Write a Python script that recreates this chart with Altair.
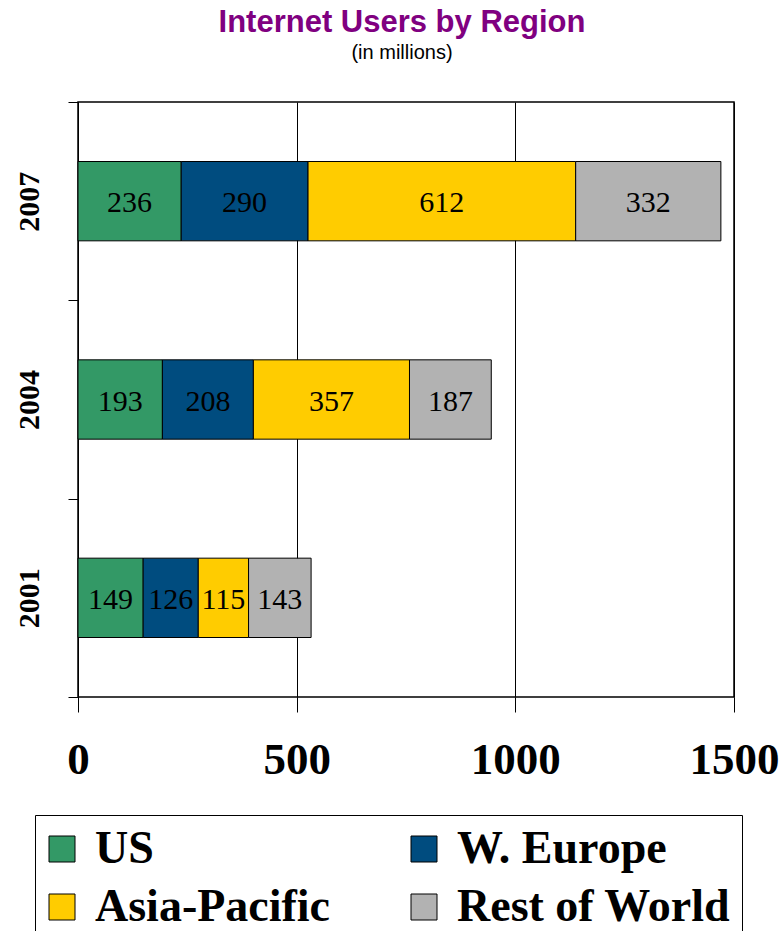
import altair as alt
import pandas as pd

# Internet users (millions) per region, one list per series
years = ["2007", "2004", "2001"]
regions = ["US", "W. Europe", "Asia-Pacific", "Rest of World"]
us = [236, 193, 149]
w_europe = [290, 208, 126]
asia_pacific = [612, 357, 115]
rest_of_world = [332, 187, 143]
region_colors = ["#339966", "#004C7F", "#FFCC00", "#B2B2B2"]
x_ticks = [0, 500, 1000, 1500]

rows = []
for idx, (name, values) in enumerate(zip(regions, [us, w_europe, asia_pacific, rest_of_world])):
    for year, v in zip(years, values):
        rows.append({"year": year, "region": name, "users": v, "order": idx})
df = pd.DataFrame(rows)

serif = "Liberation Serif"
sans = "Liberation Sans"

x_scale = alt.Scale(domain=[0, 1500], nice=False, zero=True)
y_scale = alt.Scale(paddingInner=0, paddingOuter=0)

x_axis = alt.Axis(
    values=x_ticks,
    format="d",
    domain=False,
    ticks=True,
    tickSize=15,
    tickColor="black",
    tickWidth=1,
    grid=True,
    gridColor="black",
    gridWidth=1,
    gridOpacity=1,
    labelFont=serif,
    labelFontWeight="bold",
    labelFontSize=45,
    labelColor="black",
    labelPadding=25,
    labelOverlap=False,
    labelFlush=False,
    labelBound=False,
)

y_axis = alt.Axis(
    domain=False,
    tickBand="extent",
    ticks=True,
    tickSize=10,
    tickColor="black",
    tickWidth=1,
    labelAngle=270,
    labelAlign="center",
    labelBaseline="bottom",
    labelFont=serif,
    labelFontWeight="bold",
    labelFontSize=30,
    labelColor="black",
    labelPadding=24,
    grid=False,
)

bars = alt.Chart(df).mark_bar(
    height={"band": 0.4}, stroke="black", strokeWidth=1
).encode(
    x=alt.X("users:Q", stack="zero", scale=x_scale, title=None, axis=x_axis),
    y=alt.Y("year:N", sort=years, scale=y_scale, title=None, axis=y_axis),
    color=alt.Color(
        "region:N",
        scale=alt.Scale(domain=regions, range=region_colors),
        legend=alt.Legend(
            title=None,
            orient="none",
            legendX=-43,
            legendY=713,
            direction="horizontal",
            columns=2,
            symbolType="square",
            symbolSize=676,
            symbolStrokeColor="black",
            symbolStrokeWidth=1,
            symbolOpacity=1,
            symbolOffset=-7,
            labelFont=serif,
            labelFontWeight="bold",
            labelFontSize=46,
            labelColor="black",
            labelLimit=400,
            labelOffset=10,
            columnPadding=77,
            rowPadding=12,
            padding=11,
            strokeColor="black",
            fillColor="white",
        ),
    ),
    order=alt.Order("order:Q", sort="ascending"),
)

labels = alt.Chart(df).transform_stack(
    stack="users",
    as_=["x0", "x1"],
    groupby=["year"],
    sort=[alt.SortField("order", order="ascending")],
).transform_calculate(
    mid="(datum.x0 + datum.x1) / 2"
).mark_text(
    font=serif, fontSize=30, color="black", align="center", baseline="middle", dy=2
).encode(
    x=alt.X("mid:Q", scale=x_scale, title=None, axis=x_axis),
    y=alt.Y("year:N", sort=years, scale=y_scale, title=None, axis=y_axis),
    text=alt.Text("users:Q"),
)

chart = alt.layer(bars, labels).properties(
    width=656,
    height=595,
    autosize=alt.AutoSizeParams(type="none"),
    padding={"left": 78, "top": 102, "right": 49, "bottom": 234},
    background="white",
    title=alt.TitleParams(
        text="Internet Users by Region",
        subtitle="(in millions)",
        font=sans,
        fontSize=31,
        fontWeight="bold",
        color="#800080",
        subtitleFont=sans,
        subtitleFontSize=20,
        subtitleColor="black",
        subtitlePadding=4,
        anchor="middle",
        offset=38,
        dx=-4,
    ),
).configure_view(
    stroke="black", strokeWidth=1.5
)

chart.save("out.html", embed_options={"renderer": "svg", "actions": False})
